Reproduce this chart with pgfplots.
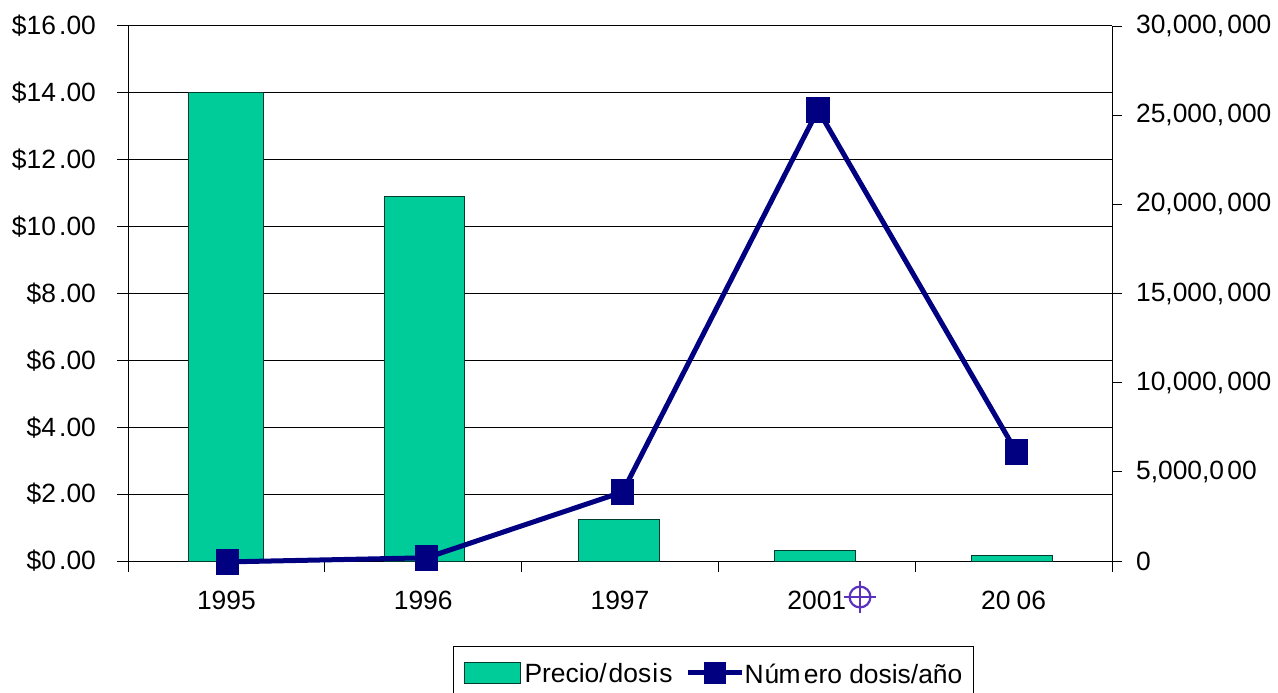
\documentclass[border=0pt]{standalone}
\usepackage{pgfplots}
\usepackage{fontspec}
\setmainfont{Liberation Sans}
\pgfplotsset{compat=1.18}
\definecolor{barc}{RGB}{0,204,153}
\definecolor{linec}{RGB}{0,0,128}
\definecolor{crossc}{RGB}{90,50,190}
\newcommand{\g}{\kern 1.6pt}
\begin{document}
\begin{tikzpicture}[x=1pt,y=1pt]
\useasboundingbox (0,0) rectangle (639,346);
\begin{axis}[
  at={(64pt,65.5pt)}, anchor=south west,
  scale only axis, width=492pt, height=267.5pt,
  xmin=-0.5, xmax=4.5, ymin=0, ymax=16,
  axis y line*=left, axis x line*=bottom,
  axis line style={black,line width=0.5pt,-},
  ytick={0,2,...,16},
  yticklabels={\$0\g.00,\$2\g.00,\$4\g.00,\$6\g.00,\$8\g.00,\$10\g.00,\$12\g.00,\$14\g.00,\$16\g.00},
  xtick={0,1,2,3,4},
  xticklabels={1995,1996,1997,2001,20\kern 3pt 06},
  minor xtick={-0.5,0.5,1.5,2.5,3.5,4.5},
  major tick length=5.5pt,
  x tick style={draw=none},
  minor x tick style={draw=black,line width=0.5pt},
  minor tick length=5.5pt,
  y tick style={black,line width=0.5pt},
  tick align=outside,
  ymajorgrids, grid style={black,line width=0.5pt},
  tick label style={font=\fontsize{13.2}{15}\selectfont,black},
  xticklabel style={yshift=-6pt},
  yticklabel style={xshift=-7pt},
  ybar,
  clip=false, axis on top=false,
  legend columns=2,
  legend style={at={(0.3303,-0.159)},anchor=north west,draw=black,line width=0.5pt,
     font=\fontsize{13.2}{15}\selectfont, inner xsep=2pt, inner ysep=6.5pt,
     /tikz/every even column/.append style={column sep=4.5pt}},
]
\addplot[fill=barc,draw=black!70!barc,line width=0.5pt,bar shift=-0.45pt,bar width=37.5pt,
  area legend,
  legend image code/.code={\path (0pt,0pt);\draw[fill=barc,draw=black!70!barc,line width=0.5pt] (3pt,-4.2pt) rectangle (31pt,6.2pt);}]
  coordinates {(0,14.0)};
\addlegendentry{Precio/\kern 1pt dos\kern .6pt i\kern .6pt s}
\addlegendimage{legend image code/.code={
   \draw[linec,line width=2.5pt] (0pt,1pt) -- (27pt,1pt);
   \fill[linec] (8.2pt,-4.2pt) rectangle (18.8pt,6.2pt);}}
\addlegendentry{\kern -2pt N\kern .4pt ú\kern -.3pt m\g ero dosis/año\kern 1.5pt}
\addplot[forget plot,fill=barc,draw=black!70!barc,line width=0.5pt,bar shift=0.4pt,bar width=40pt]
  coordinates {(1,10.9)};
\addplot[forget plot,fill=barc,draw=black!70!barc,line width=0.5pt,bar shift=-0.7pt,bar width=40.5pt]
  coordinates {(2,1.23)(3,0.31)(4,0.17)};
\end{axis}
\begin{axis}[
  at={(64pt,65.5pt)}, anchor=south west,
  scale only axis, width=492pt, height=267.5pt,
  xmin=-0.5, xmax=4.5, ymin=0, ymax=30000000,
  axis y line*=right, axis x line=none,
  axis line style={black,line width=0.5pt,-},
  ytick={0,5000000,10000000,15000000,20000000,25000000,30000000},
  yticklabels={0,{5,000,0\g00},{10,000,\g000},{15,000,\g000},{20,000,\g000},{25,000,\g000},{30,000,\g000}},
  scaled y ticks=false,
  major tick length=5pt,
  tick align=outside,
  y tick style={black,line width=0.5pt},
  tick label style={font=\fontsize{13.2}{15}\selectfont,black},
  yticklabel style={xshift=3.5pt},
  clip=false,
]
\addplot[linec,line width=2.5pt,mark=square*,mark size=6.2pt,mark options={fill=linec,draw=linec,line width=0pt,xscale=0.92}]
  coordinates {(0.006,-50000)(1.017,180000)(2.013,3870000)(3.006,25300000)(4.015,6100000)};
\end{axis}
\draw[crossc,line width=1.1pt] (430,47.5) circle[radius=5.2pt];
\draw[crossc,line width=1.1pt] (422,47.5) -- (438,47.5) (430,39.5) -- (430,55.5);
\end{tikzpicture}
\end{document}
